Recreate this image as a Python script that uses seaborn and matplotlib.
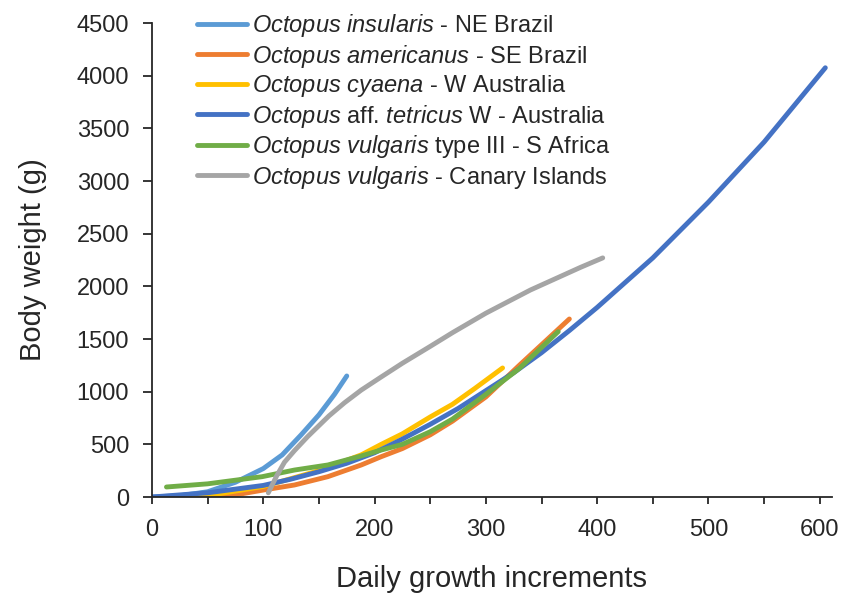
import matplotlib
matplotlib.use("Agg")
import matplotlib.pyplot as plt
import seaborn as sns
import pandas as pd
from matplotlib.ticker import MultipleLocator

# ---- data ----
labels = [
    r"$\it{Octopus\ insularis}$ - NE Brazil",
    r"$\it{Octopus\ americanus}$ - SE Brazil",
    r"$\it{Octopus\ cyaena}$ - W Australia",
    r"$\it{Octopus}$ aff. $\it{tetricus}$ W - Australia",
    r"$\it{Octopus\ vulgaris}$ type III - S Africa",
    r"$\it{Octopus\ vulgaris}$ - Canary Islands",
]
colors = ["#5B9BD5", "#ED7D31", "#FFC000", "#4472C4", "#70AD47", "#A5A5A5"]

insularis_x = [0, 25, 50, 75, 100, 117, 134, 150, 164, 175]
insularis_y = [0, 12, 50, 140, 270, 400, 590, 780, 975, 1149]

americanus_x = [50, 75, 100, 128, 158, 188, 206, 225, 250, 270, 300, 330, 375]
americanus_y = [0, 20, 66, 114, 193, 304, 383, 460, 590, 720, 950, 1250, 1690]

cyaena_x = [30, 60, 100, 150, 188, 206, 225, 250, 270, 290, 315]
cyaena_y = [5, 30, 100, 250, 400, 500, 600, 760, 880, 1030, 1225]

tetricus_x = [0, 50, 100, 125, 150, 175, 200, 225, 250, 275, 300, 325, 350,
              375, 400, 450, 500, 550, 605]
tetricus_y = [0, 40, 110, 170, 240, 320, 420, 550, 690, 840, 1010, 1180, 1370,
              1580, 1800, 2270, 2800, 3370, 4075]

safrica_x = [13, 50, 99, 128, 158, 188, 206, 225, 250, 270, 300, 330, 365]
safrica_y = [95, 125, 193, 256, 304, 390, 446, 500, 620, 740, 975, 1220, 1570]

canary_x = [104.5, 112, 119, 128, 140, 159, 173, 188, 206, 225, 250, 270, 300,
            340, 385, 405]
canary_y = [40, 200, 330, 440, 575, 770, 895, 1015, 1140, 1270, 1430, 1560,
            1745, 1965, 2180, 2270]

series_x = [insularis_x, americanus_x, cyaena_x, tetricus_x, safrica_x, canary_x]
series_y = [insularis_y, americanus_y, cyaena_y, tetricus_y, safrica_y, canary_y]

frames = []
for lab, xs, ys in zip(labels, series_x, series_y):
    frames.append(pd.DataFrame({"x": xs, "y": ys, "series": lab}))
df = pd.concat(frames, ignore_index=True)

# ---- plot ----
sns.set_theme(style="white")
plt.rcParams["font.family"] = ["Liberation Sans", "DejaVu Sans"]
plt.rcParams["mathtext.fontset"] = "custom"
plt.rcParams["mathtext.rm"] = "Liberation Sans"
plt.rcParams["mathtext.it"] = "Liberation Sans:italic"
plt.rcParams["mathtext.bf"] = "Liberation Sans:bold"

TXT = "#262626"

fig = plt.figure(figsize=(8.6, 5.97), dpi=100)
ax = fig.add_axes([152 / 860, 1 - 497 / 597, (832 - 152) / 860, (497 - 23) / 597])

sns.lineplot(data=df, x="x", y="y", hue="series", hue_order=labels,
             palette=colors, estimator=None, sort=False, linewidth=3.5,
             ax=ax, legend=False, solid_capstyle="round",
             solid_joinstyle="round")

ax.set_xlim(0, 611)
ax.set_ylim(0, 4500)
ax.xaxis.set_major_locator(MultipleLocator(100))
ax.xaxis.set_minor_locator(MultipleLocator(50))
ax.yaxis.set_major_locator(MultipleLocator(500))

for s in ["top", "right"]:
    ax.spines[s].set_visible(False)
for s in ["left", "bottom"]:
    ax.spines[s].set_color(TXT)
    ax.spines[s].set_linewidth(1.3)

ax.tick_params(axis="both", which="both", direction="out", color=TXT,
               width=1.3, labelsize=17, labelcolor=TXT)
ax.tick_params(axis="x", which="major", length=5, bottom=True, pad=11)
ax.tick_params(axis="x", which="minor", length=5, bottom=True)
ax.tick_params(axis="y", which="major", length=6.5, left=True, pad=10)

ax.set_xlabel("Daily growth increments", fontsize=21, color=TXT, labelpad=17)
ax.set_ylabel("Body weight (g)", fontsize=21, color=TXT, labelpad=21)

handles = ax.get_lines()[:len(labels)]
leg = ax.legend(handles, labels, loc="upper left",
                bbox_to_anchor=(197 / 860, 1 - 12 / 597),
                bbox_transform=fig.transFigure, frameon=False,
                fontsize=17, handlelength=2.1, handletextpad=0.25,
                labelspacing=0.15, borderaxespad=0, borderpad=0)
for t in leg.get_texts():
    t.set_color(TXT)

fig.savefig("out.png", dpi=100)
